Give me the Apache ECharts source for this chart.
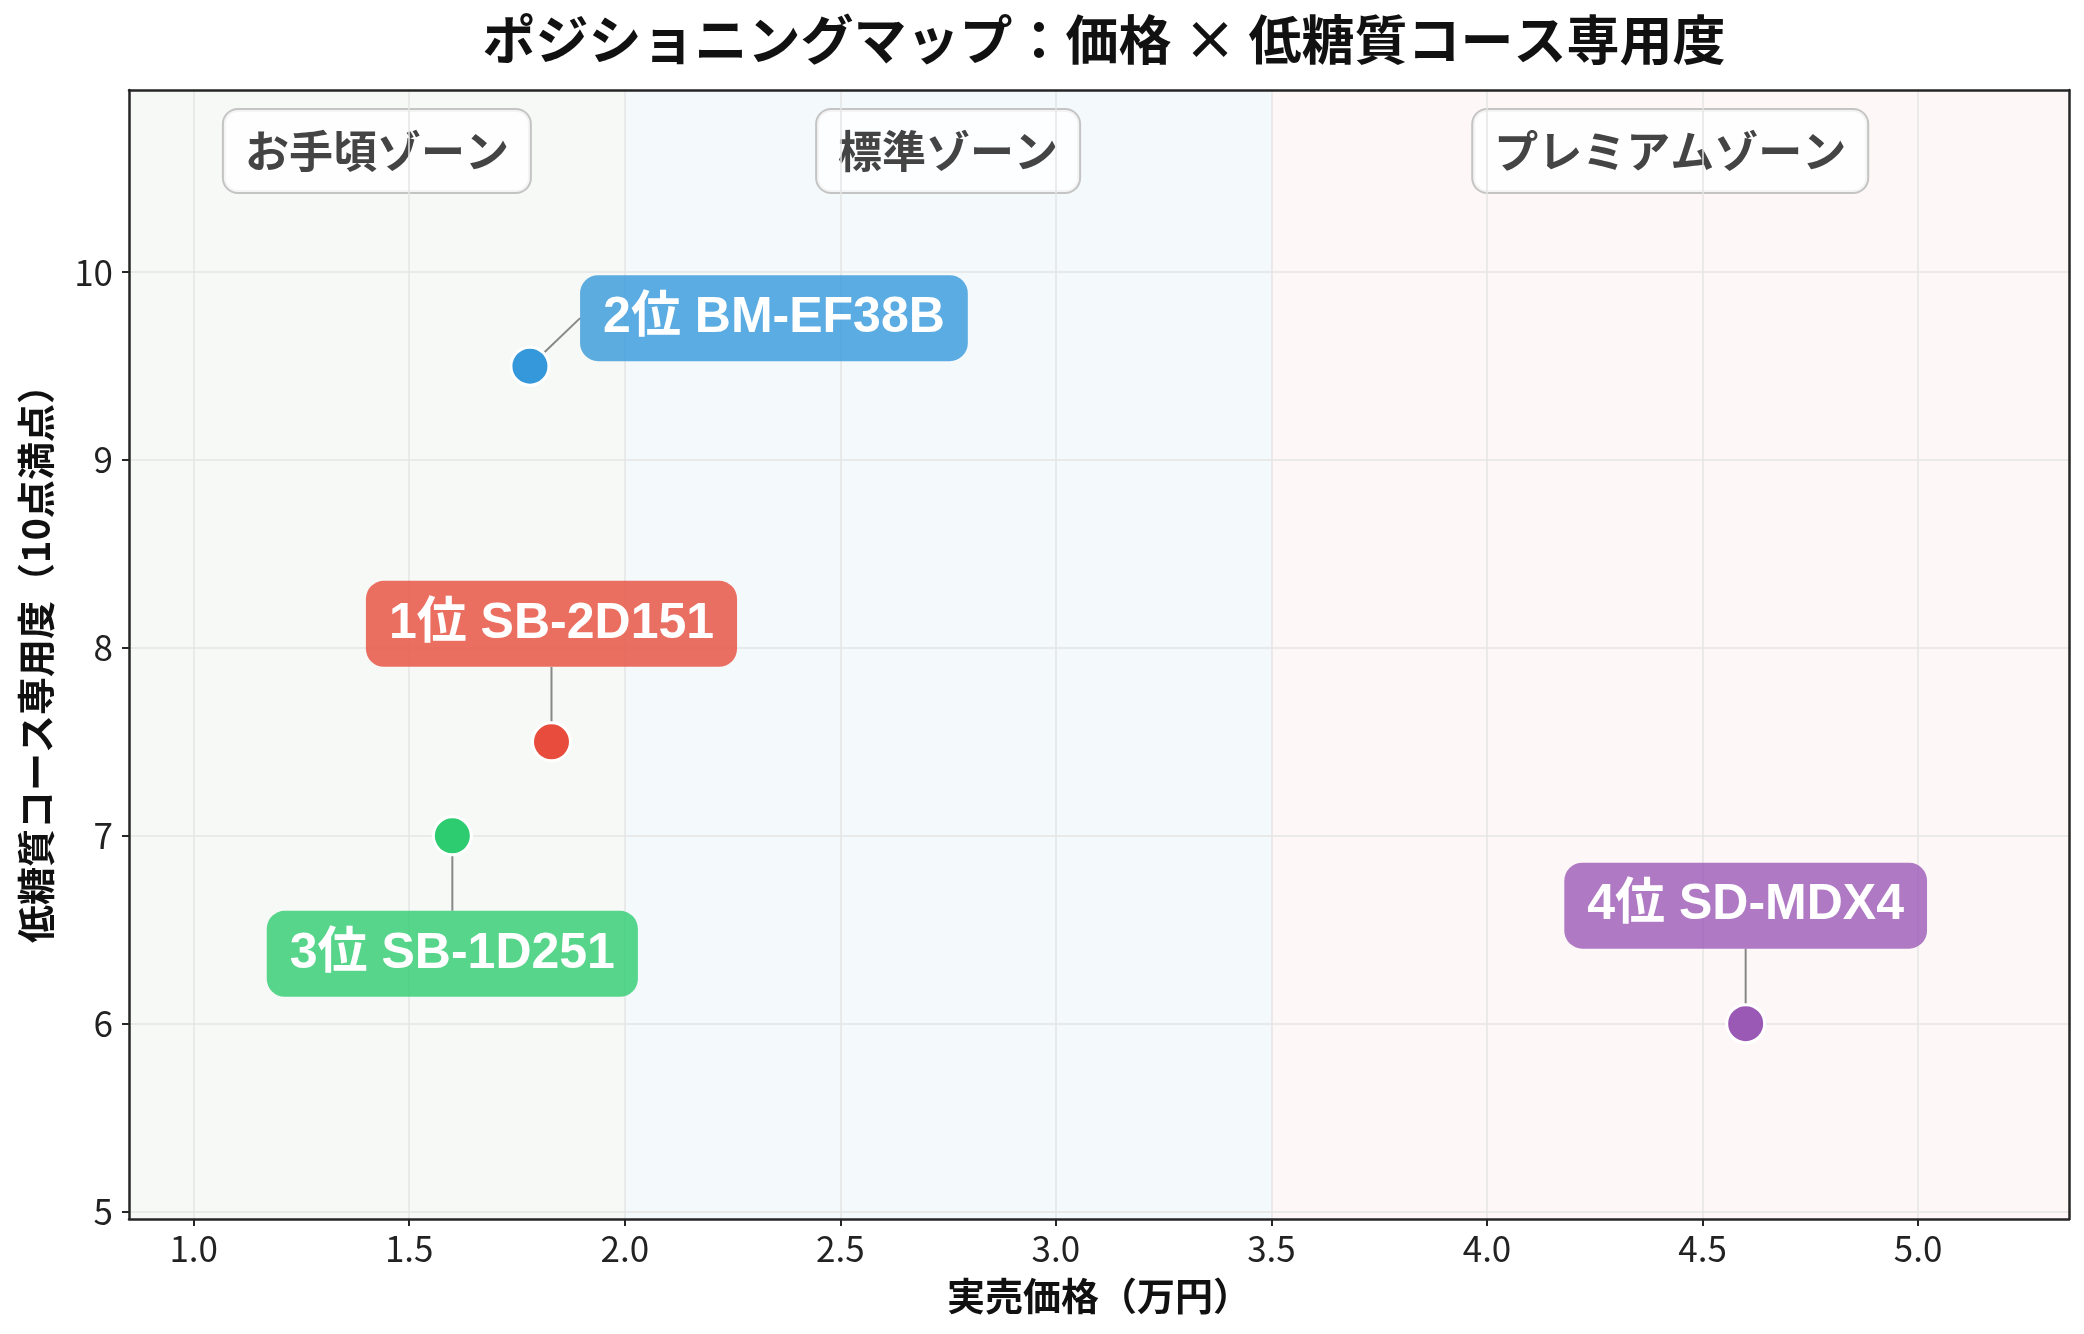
<!DOCTYPE html>
<html lang="ja">

<head>
    <meta charset="UTF-8">
    <title>ポジショニングマップ</title>
    <style>
        * {
            margin: 0;
            padding: 0;
        }

        #chart {
            width: 2084px;
            height: 1334px;
            background: #fff;
        }
    </style>
</head>

<body>
    <div id="chart"></div>

    <script src="https://cdn.jsdelivr.net/npm/echarts@6/dist/echarts.min.js"></script>
    <script>
        // 製品データ
        var names = ['1位 SB-2D151', '2位 BM-EF38B', '3位 SB-1D251', '4位 SD-MDX4'];
        var prices = [1.83, 1.78, 1.60, 4.60];
        var scores = [7.5, 9.5, 7.0, 6.0];
        var pointColors = ['#e74c3c', '#3498db', '#2ecc71', '#9b59b6'];
        var boxColors = ['rgba(231,76,60,0.8)', 'rgba(52,152,219,0.8)', 'rgba(46,204,113,0.8)', 'rgba(155,89,182,0.8)'];
        // ラベルのずらし量 (px)
        var labelShift = [[0, -118], [244, -48], [0, 118], [0, -118]];

        // ゾーン
        var zoneNames = ['お手頃ゾーン', '標準ゾーン', 'プレミアムゾーン'];
        var zoneFrom = [0.85, 2.0, 3.5];
        var zoneTo = [2.0, 3.5, 5.35];
        var zoneColors = ['#f7f9f6', '#f4f9fc', '#fdf7f7'];

        // 目盛り
        var xTicks = [1.0, 1.5, 2.0, 2.5, 3.0, 3.5, 4.0, 4.5, 5.0];
        var yTicks = [5, 6, 7, 8, 9, 10];

        var font = "'Noto Sans CJK JP', sans-serif";
        var labelFont = "'Liberation Sans', 'Noto Sans CJK JP', sans-serif";

        var myChart = echarts.init(document.getElementById('chart'));

        var points = names.map(function (n, i) {
            return {
                name: n,
                value: [prices[i], scores[i]],
                itemStyle: { color: pointColors[i] },
                label: { backgroundColor: boxColors[i] }
            };
        });

        var zones = zoneNames.map(function (z, i) {
            return [{
                name: z,
                xAxis: zoneFrom[i],
                yAxis: 'min',
                itemStyle: { color: zoneColors[i] }
            }, {
                xAxis: zoneTo[i],
                yAxis: 'max'
            }];
        });

        var axisLineStyle = { color: '#262626', width: 2.5 };

        var option = {
            animation: false,
            title: {
                text: 'ポジショニングマップ：価格 × 低糖質コース専用度',
                left: 1099,
                textAlign: 'center',
                top: 8,
                textStyle: {
                    fontFamily: font,
                    fontSize: 53,
                    fontWeight: 'bold',
                    color: '#111'
                }
            },
            grid: {
                left: 129,
                right: 15,
                top: 90,
                bottom: 115
            },
            xAxis: [{
                type: 'value',
                min: 0.85,
                max: 5.35,
                splitNumber: 9,
                z: 10,
                name: '実売価格（万円）',
                nameLocation: 'middle',
                nameGap: 58,
                nameTextStyle: {
                    fontFamily: font,
                    fontSize: 38,
                    fontWeight: 'bold',
                    color: '#111'
                },
                axisLine: { show: true, lineStyle: axisLineStyle },
                axisTick: { show: true, length: 7, customValues: xTicks, lineStyle: { color: '#262626', width: 2 } },
                axisLabel: {
                    customValues: xTicks,
                    margin: 12,
                    fontFamily: font,
                    fontSize: 35,
                    color: '#222',
                    formatter: function (v) { return v.toFixed(1); }
                },
                splitLine: { show: true, lineStyle: { color: '#e4e4e4', width: 1.5 } }
            }, {
                type: 'value',
                position: 'top',
                min: 0.85,
                max: 5.35,
                z: 10,
                axisLine: { show: true, lineStyle: axisLineStyle },
                axisTick: { show: false },
                axisLabel: { show: false },
                splitLine: { show: false }
            }],
            yAxis: [{
                type: 'value',
                min: 4.96,
                max: 10.97,
                z: 10,
                name: '低糖質コース専用度（10点満点）',
                nameLocation: 'middle',
                nameGap: 74,
                nameTextStyle: {
                    fontFamily: font,
                    fontSize: 38,
                    fontWeight: 'bold',
                    color: '#111'
                },
                axisLine: { show: true, lineStyle: axisLineStyle },
                axisTick: { show: true, length: 7, customValues: yTicks, lineStyle: { color: '#262626', width: 2 } },
                axisLabel: {
                    customValues: yTicks,
                    margin: 16,
                    fontFamily: font,
                    fontSize: 35,
                    color: '#222'
                },
                splitLine: { show: true, lineStyle: { color: '#e4e4e4', width: 1.5 } }
            }, {
                type: 'value',
                position: 'right',
                min: 4.96,
                max: 10.97,
                z: 10,
                axisLine: { show: true, lineStyle: axisLineStyle },
                axisTick: { show: false },
                axisLabel: { show: false },
                splitLine: { show: false }
            }],
            series: [{
                // ゾーン背景
                type: 'scatter',
                z: 1,
                data: [],
                silent: true,
                markArea: {
                    silent: true,
                    label: {
                        show: true,
                        position: 'insideTop',
                        distance: 20,
                        fontFamily: font,
                        fontSize: 44,
                        fontWeight: 'bold',
                        color: '#444',
                        lineHeight: 44,
                        backgroundColor: 'rgba(255,255,255,0.82)',
                        borderColor: '#c4c4c4',
                        borderWidth: 2,
                        borderRadius: 14,
                        padding: [19, 21]
                    },
                    data: zones
                }
            }, {
                type: 'scatter',
                z: 20,
                symbolSize: 38,
                itemStyle: {
                    opacity: 1,
                    borderColor: '#fff',
                    borderWidth: 3
                },
                emphasis: { disabled: true },
                label: {
                    show: true,
                    position: 'inside',
                    formatter: '{b}',
                    fontFamily: labelFont,
                    fontSize: 50,
                    fontWeight: 'bold',
                    color: '#fff',
                    lineHeight: 52,
                    padding: [17, 23],
                    borderRadius: 18
                },
                labelLine: {
                    show: true,
                    lineStyle: { color: '#888', width: 2 }
                },
                labelLayout: function (p) {
                    return {
                        dx: labelShift[p.dataIndex][0],
                        dy: labelShift[p.dataIndex][1]
                    };
                },
                data: points
            }]
        };

        myChart.setOption(option);
    </script>
</body>

</html>
